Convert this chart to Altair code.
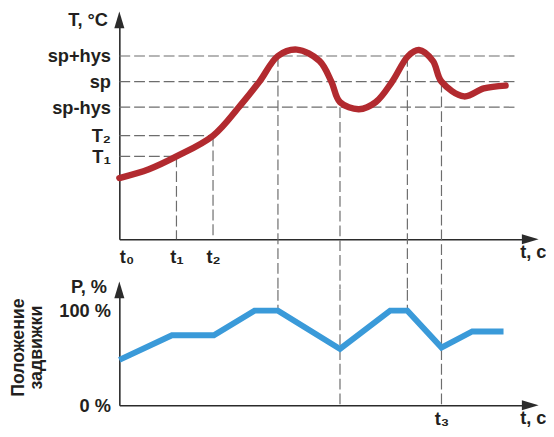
import altair as alt
import pandas as pd

FONT = "Liberation Sans, Arial, sans-serif"
TXT = "#231f20"
AX = "#2b2b2b"
DASH = "#6d6d6d"
RED = "#b22a2f"
BLUE = "#3a9ad9"

# ---------------- data (time in arbitrary units, t0 = 0) ----------------
t_names = ["t₀", "t₁", "t₂"]
t_values = [0.0, 13.9, 22.8]
t3_name = "t₃"
t3_value = 78.4

sp = 71.4
hys = 11.6
T1 = 37.5
T2 = 46.9
level_names = ["sp+hys", "sp", "sp-hys", "T₂", "T₁"]
level_values = [sp + hys, sp, sp - hys, T2, T1]
dash_end = 96.9

curve_t = [0, 7.2, 13.9, 22.8, 29.3, 34.1, 38.6, 43.2, 48.7, 51.6, 53.7, 58.3, 62.4, 66.4,
           70.3, 72.9, 76.3, 78.4, 83.9, 88.7, 94.0]
curve_T = [27.7, 31.7, 37.5, 46.9, 60.3, 71.4, 83.0, 85.9, 80.8, 71.4, 62.1, 58.9, 62.1, 71.4,
           83.0, 85.7, 80.8, 71.4, 64.7, 68.3, 69.6]

valve_t = [0, 12.8, 23.0, 32.9, 38.6, 53.7, 65.9, 70.1, 78.4, 85.9, 93.5]
valve_P = [48, 74, 74, 100, 100, 59.5, 100, 100, 61, 78, 78]

cross_t = [38.6, 53.7, 70.1, 78.4]
cross_T = [sp + hys, sp - hys, sp + hys, sp]
cross_P = [100, 0, 100, 0]

p_names = ["0 %", "100 %"]
p_values = [0, 100]

# ---------------- layout ----------------
X_MAX = 100
W = 417
H_TOP = 222.5
H_BOT = 117
GAP = 51
PX_PER_T = 2.24
T_MAX = H_TOP / PX_PER_T
P_MAX = 100 * H_BOT / 96
gap_T = GAP / PX_PER_T
FS = 18.5


def label_expr(values, names):
    return "".join(f"abs(datum.value - {v}) < 0.01 ? '{n}' : " for v, n in zip(values, names)) + "''"


x_scale = alt.Scale(domain=[0, X_MAX], nice=False, zero=False)
T_scale = alt.Scale(domain=[0, T_MAX], nice=False, zero=False)
P_scale = alt.Scale(domain=[0, P_MAX], nice=False, zero=False)

x_axis_top = alt.Axis(values=t_values, labelExpr=label_expr(t_values, t_names), labelFlush=True,
                      labelOverlap=False, labelPadding=9, title="t, c", titleX=W + 16, titleY=19,
                      titleAlign="right", titleBaseline="alphabetic", titleAngle=0)
T_axis = alt.Axis(values=level_values, labelExpr=label_expr(level_values, level_names),
                  labelOverlap=False, labelPadding=9, title="T, °C", titleAngle=0, titleAlign="right",
                  titleBaseline="alphabetic", titleX=-12, titleY=6)
x_axis_bot = alt.Axis(values=[t3_value], labelExpr=label_expr([t3_value], [t3_name]), labelOverlap=False,
                      labelPadding=5, title="t, c", titleX=W + 16, titleY=19, titleAlign="right",
                      titleBaseline="alphabetic", titleAngle=0)
P_axis = alt.Axis(values=p_values, labelExpr=label_expr(p_values, p_names), labelOverlap=False,
                  labelPadding=9, title="P, %", titleAngle=0, titleAlign="right",
                  titleBaseline="alphabetic", titleX=-13, titleY=3)


def X(field, axis):
    return alt.X(field, type="quantitative", scale=x_scale, axis=axis)


def YT(field):
    return alt.Y(field, type="quantitative", scale=T_scale, axis=T_axis)


def YP(field):
    return alt.Y(field, type="quantitative", scale=P_scale, axis=P_axis)


dash_rule = dict(color=DASH, strokeWidth=1.2, strokeDash=[11, 4])

# ---------------- top panel ----------------
df_curve = pd.DataFrame({"t": curve_t, "T": curve_T})
df_hlong = pd.DataFrame({"T": level_values[:3], "t": 0.0, "t2": dash_end})
df_hshort = pd.DataFrame({"T": [T2, T1], "t": 0.0, "t2": [t_values[2], t_values[1]]})
df_vshort = pd.DataFrame({"t": [t_values[1], t_values[2]], "T": [T1, T2], "T0": 0.0})
df_vtop = pd.DataFrame({"t": cross_t, "T": cross_T, "Tb": -gap_T})
df_arrow_up = pd.DataFrame({"t": [0.0], "T": [T_MAX]})
df_arrow_right = pd.DataFrame({"t": [X_MAX], "T": [0.0]})

UP = "M0,-1 L0.6,1 L-0.6,1 Z"
RIGHT = "M1,0 L-1,0.6 L-1,-0.6 Z"
arrow = dict(size=289, filled=True, color=AX, opacity=1, strokeWidth=0)

top = alt.layer(
    alt.Chart(df_hlong).mark_rule(**dash_rule).encode(x=X("t", x_axis_top), x2="t2", y=YT("T")),
    alt.Chart(df_hshort).mark_rule(**dash_rule).encode(x=X("t", x_axis_top), x2="t2", y=YT("T")),
    alt.Chart(df_vshort).mark_rule(**dash_rule).encode(x=X("t", x_axis_top), y=YT("T"), y2="T0"),
    alt.Chart(df_vtop).mark_rule(**dash_rule).encode(x=X("t", x_axis_top), y=YT("T"), y2="Tb"),
    alt.Chart(df_curve).mark_line(color=RED, strokeWidth=6.5, interpolate="catmull-rom", strokeCap="round").encode(
        x=X("t", x_axis_top), y=YT("T")),
    alt.Chart(df_arrow_up).mark_point(shape=UP, **arrow).encode(x=X("t", x_axis_top), y=YT("T")),
    alt.Chart(df_arrow_right).mark_point(shape=RIGHT, **arrow).encode(x=X("t", x_axis_top), y=YT("T")),
).properties(width=W, height=H_TOP)

# ---------------- bottom panel ----------------
df_valve = pd.DataFrame({"t": valve_t, "P": valve_P})
df_vbot = pd.DataFrame({"t": cross_t, "P": cross_P, "Ptop": P_MAX})
df_arrow_up2 = pd.DataFrame({"t": [0.0], "P": [P_MAX]})
df_arrow_right2 = pd.DataFrame({"t": [X_MAX], "P": [0.0]})

bottom = alt.layer(
    alt.Chart(df_vbot).mark_rule(**dash_rule).encode(x=X("t", x_axis_bot), y=YP("Ptop"), y2="P"),
    alt.Chart(df_valve).mark_line(color=BLUE, strokeWidth=6).encode(x=X("t", x_axis_bot), y=YP("P")),
    alt.Chart(df_arrow_up2).mark_point(shape=UP, **arrow).encode(x=X("t", x_axis_bot), y=YP("P")),
    alt.Chart(df_arrow_right2).mark_point(shape=RIGHT, **arrow).encode(x=X("t", x_axis_bot), y=YP("P")),
).properties(
    width=W, height=H_BOT,
    title=alt.TitleParams(text=["Положение", "задвижки"], orient="left", anchor="middle", font=FONT,
                          fontSize=18, fontWeight="bold", color=TXT, lineHeight=18, offset=13),
)

chart = alt.vconcat(top, bottom, spacing=GAP, bounds="flush").properties(
    padding={"left": 2, "top": 0, "right": 0, "bottom": -2}
).configure_view(stroke=None).configure_axis(
    domainColor=AX, domainWidth=1.6, ticks=False, tickSize=0, grid=False,
    labelFont=FONT, labelFontSize=FS, labelFontWeight="bold", labelColor=TXT,
    titleFont=FONT, titleFontSize=FS, titleFontWeight="bold", titleColor=TXT,
)

chart.save("out.html", embed_options={"renderer": "svg", "actions": False})
